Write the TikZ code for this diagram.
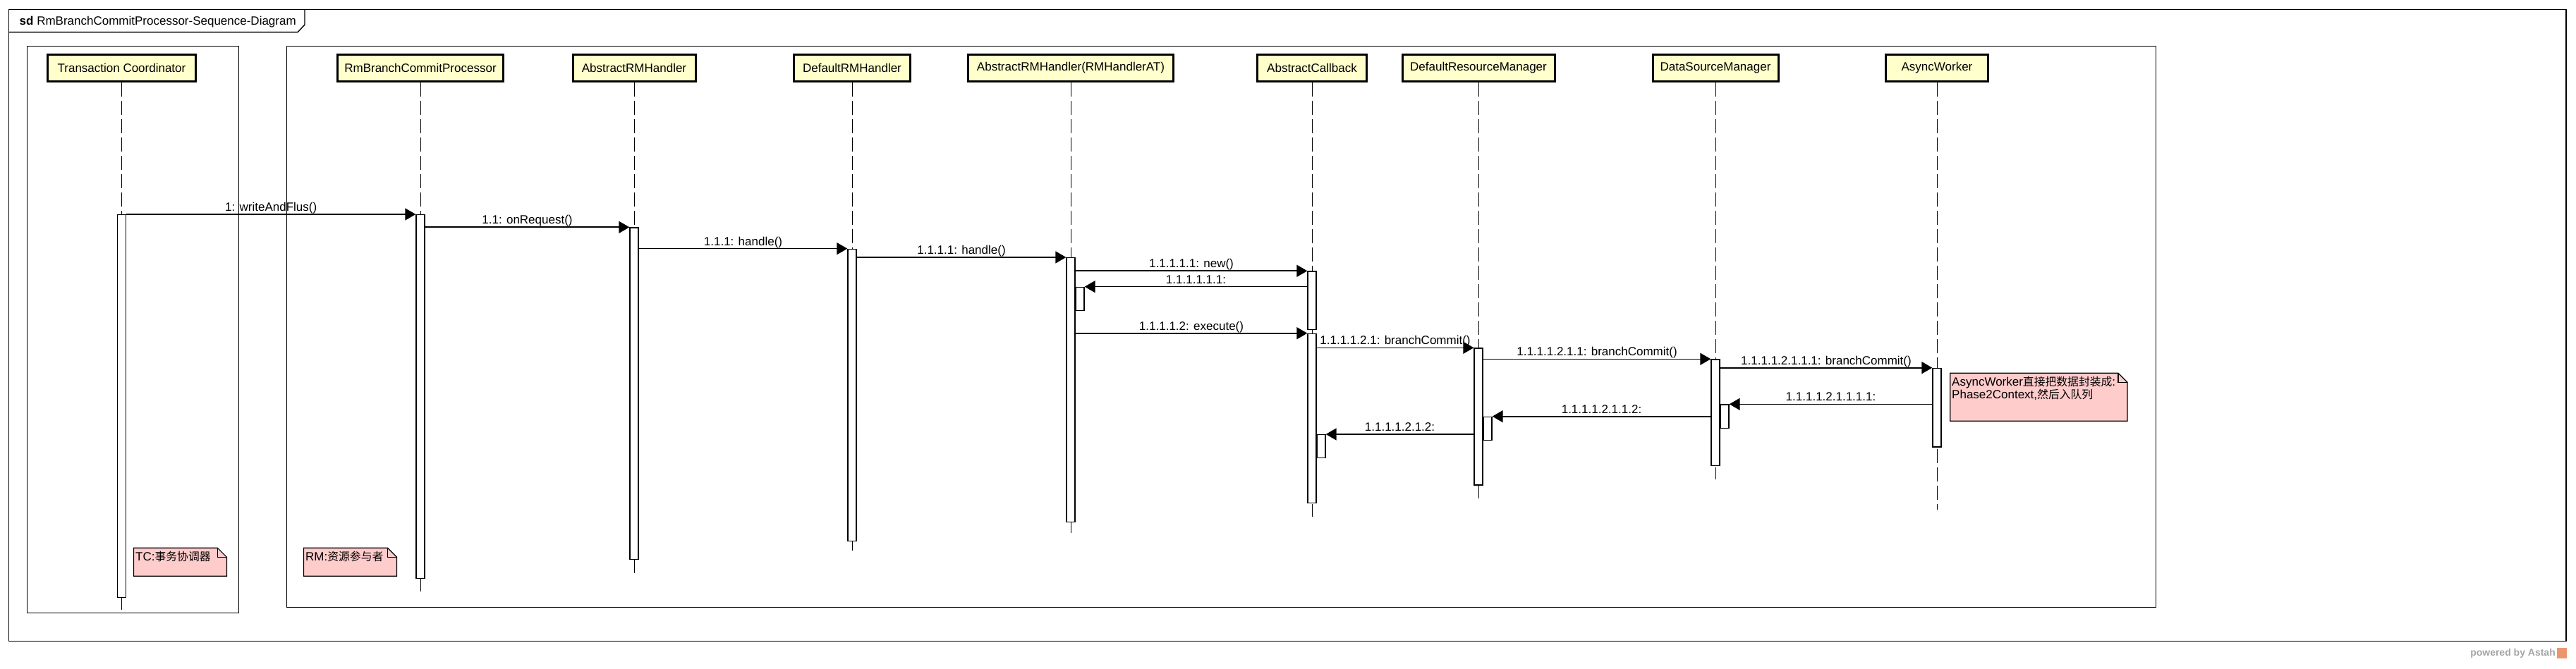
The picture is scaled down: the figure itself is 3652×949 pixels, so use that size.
\documentclass[tikz,border=0pt]{standalone}
\usepackage{fontspec}
\setmainfont{Liberation Sans}
\newfontfamily\cjk[Scale=0.93]{Noto Sans CJK SC}
\usetikzlibrary{arrows.meta}
\definecolor{boxyellow}{RGB}{255,255,204}
\definecolor{notepink}{RGB}{255,204,204}
\definecolor{astahgray}{RGB}{165,165,165}
\definecolor{astahorange}{RGB}{236,150,110}
\newcommand\mynote[4]{%
  \draw[note] (#1,#2) -- ({#3-13},#2) -- (#3,{#2+13}) -- (#3,#4) -- (#1,#4) -- cycle;
  \draw[line width=1.2pt] ({#3-13},#2) -- ({#3-13},{#2+13}) -- (#3,{#2+13});}
\begin{document}
\begin{tikzpicture}[x=1pt,y=-1pt,
  lbl/.style={font=\fontsize{17}{18}\selectfont, inner sep=0pt},
  participant/.style={draw, line width=3pt, fill=boxyellow, minimum height=38.6pt, inner sep=0pt, font=\fontsize{17}{20}\selectfont},
  lifeline/.style={line width=1pt, dash pattern=on 20pt off 6pt},
  act/.style={draw, fill=white, line width=1.3pt, minimum width=12pt, inner sep=0pt, anchor=north},
  msg/.style={line width=1.6pt, -{Triangle[length=15pt,width=17pt]}},
  frame/.style={line width=1.4pt},
  note/.style={draw, fill=notepink, line width=1.2pt, line join=miter},
  mlabel/.style={lbl, anchor=base, yshift=4.5pt}]
\useasboundingbox (0,0) rectangle (3652,949);
\fill[white] (0,0) rectangle (3652,949);

% frames
\draw[frame] (12.6,13.3) rectangle (3638,909.3);
\draw[frame] (12.6,45.7) -- (422,45.7) -- (432,35) -- (432,13.3);
\node[lbl, anchor=west] (title) at (27.5,31) {\textbf{sd} RmBranchCommitProcessor-Sequence-Diagram};
\draw[frame] (38.5,65.3) rectangle (338.7,869.3);
\draw[frame] (406.4,65.3) rectangle (3056.5,861.3);

% participants
\node[participant, minimum width=210pt] (pTC) at (172.5,96.5) {Transaction Coordinator};
\node[participant, minimum width=235pt] (pRB) at (596,96.5) {RmBranchCommitProcessor};
\node[participant, minimum width=174pt] (pARH) at (899,96.5) {AbstractRMHandler};
\node[participant, minimum width=165pt] (pDRH) at (1208,96.5) {DefaultRMHandler};
\node[participant, minimum width=291pt] (pAT) at (1518,96.5) {AbstractRMHandler(RMHandlerAT)};
\node[participant, minimum width=155pt] (pAC) at (1860,96.5) {AbstractCallback};
\node[participant, minimum width=216pt] (pDRM) at (2096,96.5) {DefaultResourceManager};
\node[participant, minimum width=178pt] (pDSM) at (2432,96.5) {DataSourceManager};
\node[participant, minimum width=145pt] (pAW) at (2746,96.5) {AsyncWorker};

% lifeline ends
\coordinate (eTC) at (172.5,866.7);
\coordinate (eRB) at (596,840);
\coordinate (eARH) at (899,813);
\coordinate (eDRH) at (1208,780.7);
\coordinate (eAT) at (1518,756);
\coordinate (eAC) at (1860,732.7);
\coordinate (eDRM) at (2096,706.7);
\coordinate (eDSM) at (2432,680);
\coordinate (eAW) at (2746,723);
\foreach \p in {TC,RB,ARH,DRH,AT,AC,DRM,DSM,AW}
  \draw[lifeline] (p\p.south) -- (e\p);

% activations
\node[act, minimum height=543pt] (aTC) at (172.5,304) {};
\node[act, minimum height=516pt] (aRB) at (596,304) {};
\node[act, minimum height=470.7pt] (aARH) at (899,322.3) {};
\node[act, minimum height=414.3pt] (aDRH) at (1208,352.7) {};
\node[act, minimum height=375pt] (aAT) at (1518,365) {};
\node[act, minimum height=33.3pt] (aATn) at (1531,406.7) {};
\node[act, minimum height=82.7pt] (aAC1) at (1860,384.3) {};
\node[act, minimum height=240.3pt] (aAC2) at (1860,472.7) {};
\node[act, minimum height=33pt] (aACn) at (1873,616) {};
\node[act, minimum height=194pt] (aDRM) at (2096,493.3) {};
\node[act, minimum height=33.3pt] (aDRMn) at (2109,590.7) {};
\node[act, minimum height=150.7pt] (aDSM) at (2432,509.3) {};
\node[act, minimum height=33.7pt] (aDSMn) at (2445,573.3) {};
\node[act, minimum height=111.6pt] (aAW) at (2746,521.7) {};

% messages
\draw[msg] (aTC.north east) -- node[mlabel] (m1) {1: writeAndFlus()} (aRB.north west);
\draw[msg] (aRB.east |- aARH.north) -- node[mlabel] (m2) {1.1: onRequest()} (aARH.north west);
\draw[msg] (aARH.east |- aDRH.north) -- node[mlabel] (m3) {1.1.1: handle()} (aDRH.north west);
\draw[msg] (aDRH.east |- aAT.north) -- node[mlabel] (m4) {1.1.1.1: handle()} (aAT.north west);
\draw[msg] (aAT.east |- aAC1.north) -- node[mlabel] (m5) {1.1.1.1.1: new()} (aAC1.north west);
\draw[msg] (aAC1.west |- aATn.north) -- node[mlabel] (m6) {1.1.1.1.1.1:} (aATn.north east);
\draw[msg] (aAT.east |- aAC2.north) -- node[mlabel] (m7) {1.1.1.1.2: execute()} (aAC2.north west);
\draw[msg] (aAC2.east |- aDRM.north) -- node[mlabel] (m8) {1.1.1.1.2.1: branchCommit()} (aDRM.north west);
\draw[msg] (aDRM.east |- aDSM.north) -- node[mlabel] (m9) {1.1.1.1.2.1.1: branchCommit()} (aDSM.north west);
\draw[msg] (aDSM.east |- aAW.north) -- node[mlabel] (m10) {1.1.1.1.2.1.1.1: branchCommit()} (aAW.north west);
\draw[msg] (aAW.west |- aDSMn.north) -- node[mlabel] (m11) {1.1.1.1.2.1.1.1.1:} (aDSMn.north east);
\draw[msg] (aDSM.west |- aDRMn.north) -- node[mlabel] (m12) {1.1.1.1.2.1.1.2:} (aDRMn.north east);
\draw[msg] (aDRM.west |- aACn.north) -- node[mlabel] (m13) {1.1.1.1.2.1.2:} (aACn.north east);

% notes
\mynote{189.4}{777.3}{321.4}{817.3}
\node[lbl, anchor=north west] (nTC) at (192,782) {TC:{\cjk 事务协调器}};
\mynote{430.5}{777.3}{562.5}{817.3}
\node[lbl, anchor=north west] (nRM) at (433,782) {RM:{\cjk 资源参与者}};
\mynote{2764.7}{529.3}{3016}{597.3}
\node[lbl, anchor=north west, align=left] (nAW) at (2767,534)
  {AsyncWorker{\cjk 直接把数据封装成}:\\Phase2Context,{\cjk 然后入队列}};

% watermark
\node[anchor=east, inner sep=0pt, font=\fontsize{14}{16}\selectfont\bfseries, text=astahgray] (wm) at (3623,927) {powered by Astah};
\fill[astahorange] (3625,919) rectangle (3639,934);
\end{tikzpicture}
\end{document}
